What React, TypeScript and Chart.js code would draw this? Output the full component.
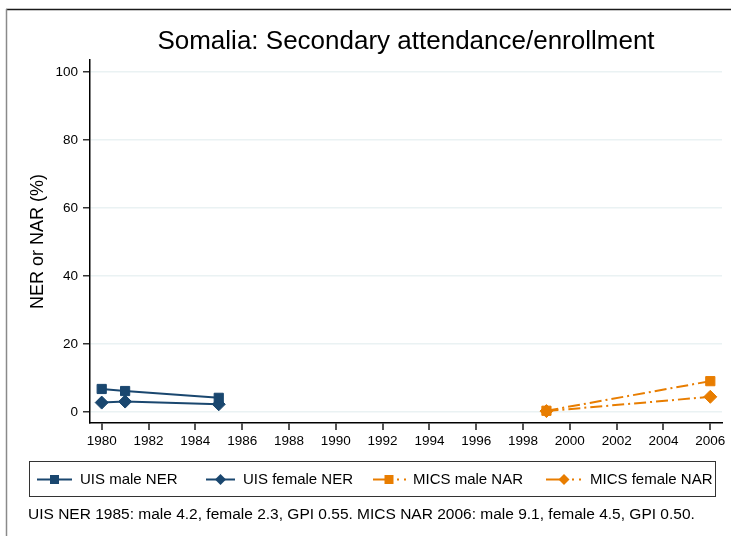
import React, { useEffect, useRef } from 'react';
import { Chart, registerables } from 'chart.js';

Chart.register(...registerables);

const chartTitle = 'Somalia: Secondary attendance/enrollment';
const yAxisTitle = 'NER or NAR (%)';
const footnote = 'UIS NER 1985: male 4.2, female 2.3, GPI 0.55. MICS NAR 2006: male 9.1, female 4.5, GPI 0.50.';

const uisYears = [1980, 1981, 1985];
const uisMale = [6.8, 6.2, 4.2];
const uisFemale = [2.8, 3.1, 2.3];
const micsYears = [1999, 2006];
const micsMale = [0.4, 9.1];
const micsFemale = [0.3, 4.5];

const xTicks = [1980, 1982, 1984, 1986, 1988, 1990, 1992, 1994, 1996, 1998, 2000, 2002, 2004, 2006];
const yTicks = [0, 20, 40, 60, 80, 100];

const seriesLabels = ['UIS male NER', 'UIS female NER', 'MICS male NAR', 'MICS female NAR'];

const NAVY = '#1a476f';
const ORANGE = '#e87d00';
const FONT = "Arial, 'Liberation Sans', Helvetica, sans-serif";
const DASH = [12, 4, 2, 4];

const toPts = (xs: number[], ys: number[]) => xs.map((x, i) => ({ x, y: ys[i] }));

const overlayPlugin = {
  id: 'overlay',
  beforeDraw(chart: any) {
    const ctx = chart.ctx;
    ctx.save();
    ctx.fillStyle = '#ffffff';
    ctx.fillRect(0, 0, chart.width, chart.height);
    ctx.restore();
  },
  afterDraw(chart: any) {
    const ctx = chart.ctx;
    const ca = chart.chartArea;
    ctx.save();
    // outer frame (partial)
    ctx.strokeStyle = '#1a1a1a';
    ctx.lineWidth = 1.5;
    ctx.beginPath();
    ctx.moveTo(6, 9.5);
    ctx.lineTo(chart.width, 9.5);
    ctx.stroke();
    ctx.strokeStyle = '#8a8a8a';
    ctx.beginPath();
    ctx.moveTo(6.5, 9);
    ctx.lineTo(6.5, chart.height);
    ctx.stroke();

    // title
    ctx.fillStyle = '#000';
    ctx.font = `26px ${FONT}`;
    ctx.textAlign = 'center';
    ctx.textBaseline = 'middle';
    ctx.fillText(chartTitle, (ca.left + ca.right) / 2, 42);

    // legend box
    ctx.strokeStyle = '#333';
    ctx.lineWidth = 1;
    ctx.strokeRect(29.5, 461.5, 686, 35);

    const ly = 479.5;
    const items = [
      { x0: 37, x1: 72, m: 54.5, tx: 80, color: NAVY, shape: 'rect', dashed: false },
      { x0: 206, x1: 235, m: 220.5, tx: 243, color: NAVY, shape: 'rectRot', dashed: false },
      { x0: 373, x1: 407, m: 389, tx: 413, color: ORANGE, shape: 'rect', dashed: true },
      { x0: 546, x1: 580, m: 564, tx: 590, color: ORANGE, shape: 'rectRot', dashed: true },
    ];
    items.forEach((it) => {
      ctx.strokeStyle = it.color;
      ctx.fillStyle = it.color;
      ctx.lineWidth = 2;
      ctx.beginPath();
      if (!it.dashed) {
        ctx.moveTo(it.x0, ly);
        ctx.lineTo(it.x1, ly);
        ctx.stroke();
      } else {
        ctx.moveTo(it.x0, ly);
        ctx.lineTo(it.m, ly);
        ctx.stroke();
        ctx.fillRect(it.m + 8, ly - 1, 2, 2);
        ctx.fillRect(it.m + 15, ly - 1, 2, 2);
      }
      ctx.beginPath();
      if (it.shape === 'rect') {
        ctx.rect(it.m - 4.5, ly - 4.5, 9, 9);
      } else {
        ctx.moveTo(it.m, ly - 5.5);
        ctx.lineTo(it.m + 5.5, ly);
        ctx.lineTo(it.m, ly + 5.5);
        ctx.lineTo(it.m - 5.5, ly);
        ctx.closePath();
      }
      ctx.fill();
    });
    ctx.fillStyle = '#000';
    ctx.font = `15px ${FONT}`;
    ctx.textAlign = 'left';
    ctx.textBaseline = 'middle';
    items.forEach((it, i) => {
      ctx.fillText(seriesLabels[i], it.tx, ly);
    });

    // footnote
    ctx.font = `15.5px ${FONT}`;
    ctx.fillText(footnote, 28, 515);
    ctx.restore();
  },
};

export default function App() {
  const ref = useRef<HTMLCanvasElement | null>(null);

  useEffect(() => {
    if (!ref.current) return;
    const chart = new Chart(ref.current, {
      type: 'line',
      data: {
        datasets: [
          {
            label: seriesLabels[0],
            data: toPts(uisYears, uisMale),
            borderColor: NAVY,
            backgroundColor: NAVY,
            borderWidth: 2,
            pointStyle: 'rect',
            pointRadius: 6.5,
            pointBorderWidth: 1,
          },
          {
            label: seriesLabels[1],
            data: toPts(uisYears, uisFemale),
            borderColor: NAVY,
            backgroundColor: NAVY,
            borderWidth: 2,
            pointStyle: 'rectRot',
            pointRadius: 6.5,
            pointBorderWidth: 1,
          },
          {
            label: seriesLabels[2],
            data: toPts(micsYears, micsMale),
            borderColor: ORANGE,
            backgroundColor: ORANGE,
            borderWidth: 2,
            borderDash: DASH,
            pointStyle: 'rect',
            pointRadius: 6.5,
            pointBorderWidth: 1,
          },
          {
            label: seriesLabels[3],
            data: toPts(micsYears, micsFemale),
            borderColor: ORANGE,
            backgroundColor: ORANGE,
            borderWidth: 2,
            borderDash: DASH,
            pointStyle: 'rectRot',
            pointRadius: 6.5,
            pointBorderWidth: 1,
          },
        ],
      },
      options: {
        responsive: false,
        animation: false,
        events: [],
        layout: { padding: { left: 0, top: 60, right: 9, bottom: 83 } },
        plugins: {
          legend: { display: false },
          title: { display: false },
          tooltip: { enabled: false },
        },
        scales: {
          x: {
            type: 'linear',
            min: 1979.5,
            max: 2006.5,
            afterBuildTicks: (s: any) => {
              s.ticks = xTicks.map((v) => ({ value: v }));
            },
            afterFit: (s: any) => {
              s.height = 30;
            },
            grid: {
              drawOnChartArea: false,
              drawTicks: true,
              tickLength: 7,
              tickColor: '#555',
              lineWidth: 2,
            },
            border: { display: true, color: '#000', width: 1.5 },
            ticks: {
              color: '#000',
              font: { family: FONT, size: 13.5 },
              padding: 3,
              maxRotation: 0,
              autoSkip: false,
              callback: (v: any) => String(v),
            },
          },
          y: {
            type: 'linear',
            min: -3.2,
            max: 103.5,
            afterBuildTicks: (s: any) => {
              s.ticks = yTicks.map((v) => ({ value: v }));
            },
            afterFit: (s: any) => {
              s.width = 90;
            },
            grid: {
              color: '#eaf2f3',
              lineWidth: 1.5,
              drawTicks: true,
              tickLength: 7,
              tickColor: '#333',
            },
            border: { display: true, color: '#000', width: 1.5 },
            ticks: {
              color: '#000',
              font: { family: FONT, size: 13.5 },
              padding: 5,
              callback: (v: any) => String(v),
            },
            title: {
              display: true,
              text: yAxisTitle,
              color: '#000',
              font: { family: FONT, size: 18 },
              padding: { top: 27, bottom: 0 },
            },
          },
        },
      },
      plugins: [overlayPlugin],
    } as any);
    return () => chart.destroy();
  }, []);

  return (
    <div style={{ position: 'fixed', left: 0, top: 0, width: 731, height: 536, background: '#fff' }}>
      <canvas ref={ref} width={731} height={536} style={{ width: 731, height: 536, display: 'block' }} />
    </div>
  );
}
